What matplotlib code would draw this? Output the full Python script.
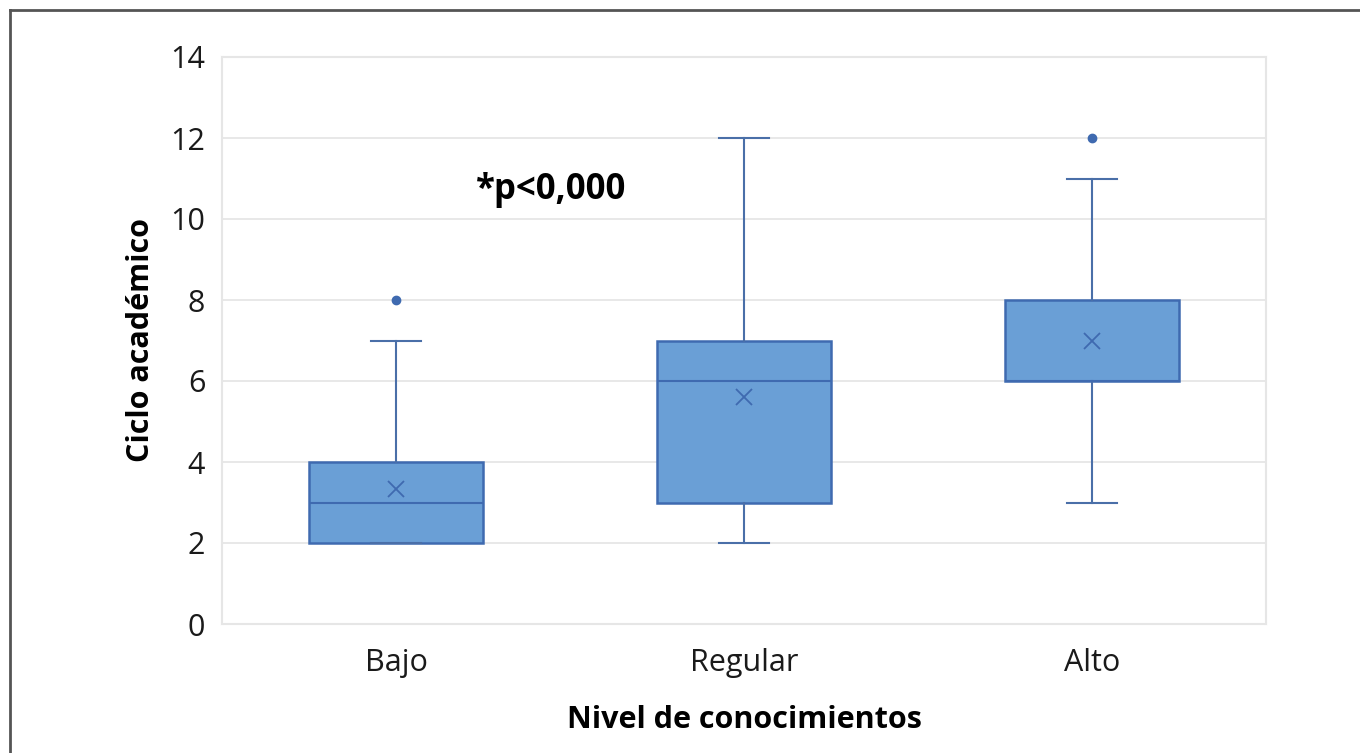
import matplotlib
matplotlib.use("Agg")
import matplotlib.pyplot as plt
from matplotlib.lines import Line2D

plt.rcParams['font.family'] = ['Open Sans', 'DejaVu Sans']

categories = ["Bajo", "Regular", "Alto"]
q1 = [2, 3, 6]
medians = [3, 6, 6]
q3 = [4, 7, 8]
whisker_low = [2, 2, 3]
whisker_high = [7, 12, 11]
means = [3.33, 5.6, 7.0]
outliers = [[8], [], [12]]
yticks = [0, 2, 4, 6, 8, 10, 12, 14]

fill_color = "#6A9FD6"
edge_color = "#3F6AB0"
line_color = "#4A6FA8"

fig = plt.figure(figsize=(13.6, 7.53), dpi=100)
ax = fig.add_axes([222/1360, (753-624)/753, (1266-222)/1360, (624-57)/753])

stats = []
for i, c in enumerate(categories):
    stats.append(dict(label=c, q1=q1[i], med=medians[i], q3=q3[i],
                      whislo=whisker_low[i], whishi=whisker_high[i],
                      mean=means[i], fliers=outliers[i]))

positions = [1, 2, 3]
ax.bxp(stats, positions=positions, widths=0.5, patch_artist=True,
       showmeans=True, showfliers=True,
       boxprops=dict(facecolor=fill_color, edgecolor=edge_color, linewidth=1.8),
       medianprops=dict(color=edge_color, linewidth=1.5),
       whiskerprops=dict(color=line_color, linewidth=1.5),
       capprops=dict(color=line_color, linewidth=1.5),
       capwidths=0.145,
       meanprops=dict(marker='x', markeredgecolor=edge_color, markersize=11, markeredgewidth=1.3),
       flierprops=dict(marker='o', markerfacecolor=edge_color, markeredgecolor=edge_color, markersize=6))

ax.set_xlim(0.5, 3.5)
ax.set_ylim(0, 14)
ax.set_yticks(yticks)
ax.set_yticklabels([str(t) for t in yticks])
ax.set_xticks(positions)
ax.set_xticklabels(categories)
ax.yaxis.grid(True, color="#E6E6E6", linewidth=1.3)
ax.set_axisbelow(True)
for s in ax.spines.values():
    s.set_color("#E6E6E6")
    s.set_linewidth(1.5)
ax.tick_params(axis='both', length=0, labelsize=22, colors="#1a1a1a")
ax.tick_params(axis='y', pad=12)
ax.tick_params(axis='x', pad=17)

ax.set_ylabel("Ciclo académico", fontsize=22, fontweight='bold', labelpad=10)
ax.set_xlabel("Nivel de conocimientos", fontsize=22, fontweight='bold', labelpad=20)

ax.text(1.23, 10.72, "*p<0,000", fontsize=25, fontweight='bold', va='center', ha='left')

# outer frame lines
fig.add_artist(Line2D([10/1360, 1.0], [1 - 10/753, 1 - 10/753], color="#555555", linewidth=2, transform=fig.transFigure))
fig.add_artist(Line2D([10/1360, 10/1360], [0, 1 - 10/753], color="#555555", linewidth=2, transform=fig.transFigure))

fig.savefig("out.png", dpi=100)
